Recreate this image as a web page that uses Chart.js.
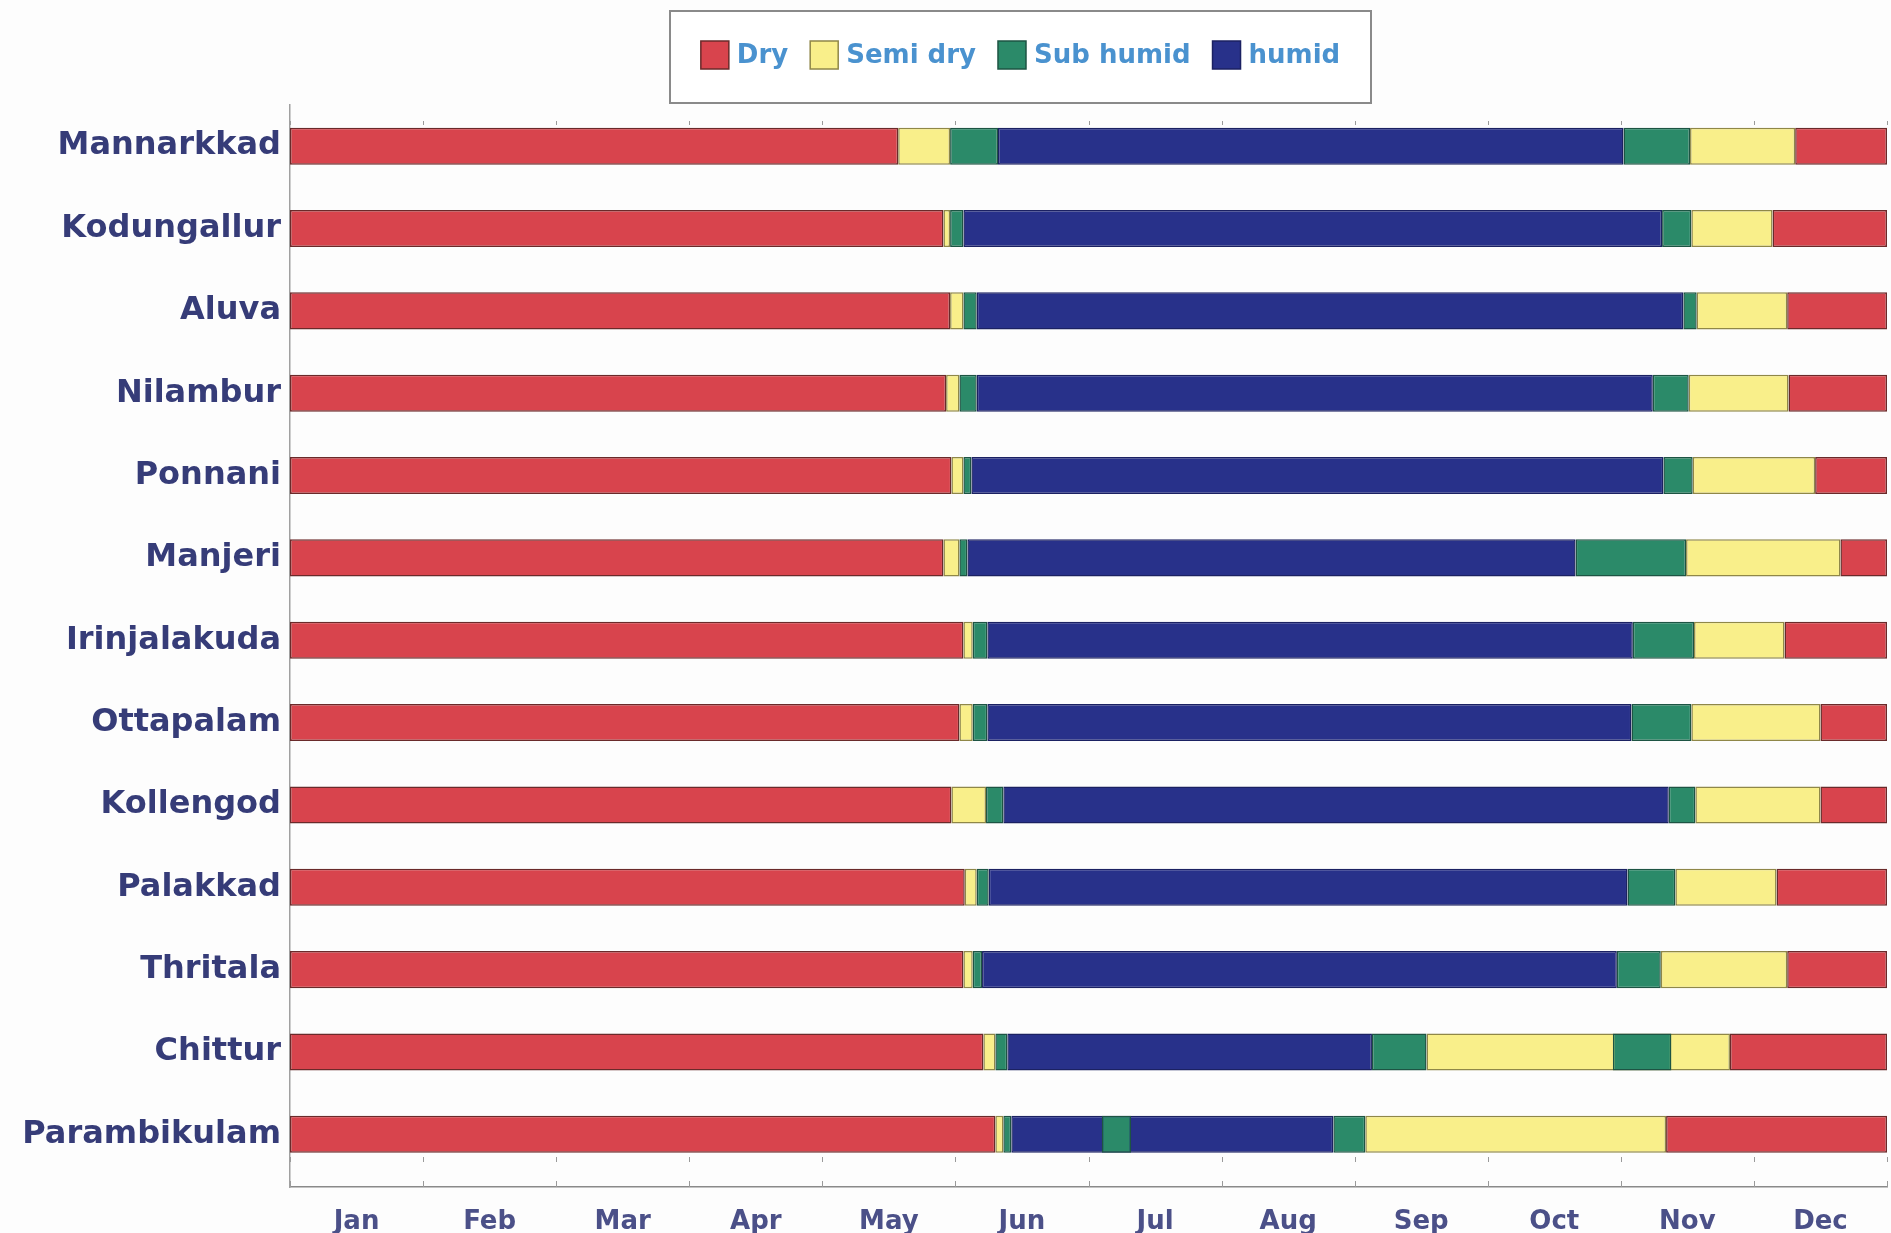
<!DOCTYPE html>
<html>
<head>
<meta charset="utf-8">
<title>Seasons by station</title>
<script src="https://cdn.jsdelivr.net/npm/chart.js@4.4.1/dist/chart.umd.min.js"></script>
<style>
  html, body { margin: 0; padding: 0; background: #fdfdfd; }
  #wrap { width: 1891px; height: 1233px; position: relative; }
</style>
</head>
<body>
<div id="wrap"><canvas id="seasons"></canvas></div>
<script>
const stations = ['Mannarkkad', 'Kodungallur', 'Aluva', 'Nilambur', 'Ponnani', 'Manjeri',
  'Irinjalakuda', 'Ottapalam', 'Kollengod', 'Palakkad', 'Thritala', 'Chittur', 'Parambikulam'];
const months = ['Jan', 'Feb', 'Mar', 'Apr', 'May', 'Jun', 'Jul', 'Aug', 'Sep', 'Oct', 'Nov', 'Dec'];
const classes = ['Dry', 'Semi dry', 'Sub humid', 'humid'];

// month at which each spell ends (0 = start of Jan, 12 = end of Dec)
const dryEnd   = [4.57, 4.91, 4.96, 4.93, 4.97, 4.91, 5.06, 5.03, 4.97, 5.07, 5.06, 5.21, 5.30];
const semiEnd  = [4.96, 4.96, 5.06, 5.03, 5.06, 5.03, 5.13, 5.13, 5.23, 5.16, 5.13, 5.30, 5.36];
const subEnd   = [5.32, 5.06, 5.16, 5.16, 5.12, 5.09, 5.24, 5.24, 5.36, 5.25, 5.20, 5.39, 5.42];
const humidEnd = [10.02, 10.31, 10.47, 10.24, 10.32, 9.66, 10.09, 10.08, 10.36, 10.05, 9.97, 8.13, 7.84];
const sub2End  = [10.52, 10.53, 10.57, 10.51, 10.54, 10.49, 10.55, 10.53, 10.56, 10.41, 10.30, 8.54, 8.08];
const semi2End = [11.31, 11.14, 11.25, 11.26, 11.46, 11.65, 11.23, 11.50, 11.50, 11.17, 11.25, 10.82, 10.34];
// short sub humid break inside the season (Chittur, Parambikulam)
const breakFrom = [null, null, null, null, null, null, null, null, null, null, null, 9.94, 6.10];
const breakTo   = [null, null, null, null, null, null, null, null, null, null, null, 10.38, 6.32];

const fills   = { 'Dry': '#d8444d', 'Semi dry': '#f9ef8a', 'Sub humid': '#2b8a69', 'humid': '#28318a' };
const borders = { 'Dry': '#6a2a2a', 'Semi dry': '#8f8748', 'Sub humid': '#1d5443', 'humid': '#1b2162' };

const at = (v, i) => (Array.isArray(v) ? v[i] : v);
function spell(cls, from, to) {
  const data = [];
  stations.forEach((s, i) => {
    const a = at(from, i), b = at(to, i);
    if (a != null && b != null) data.push({ x: [a, b], y: i });
  });
  return {
    label: cls,
    data: data,
    backgroundColor: fills[cls],
    borderColor: borders[cls],
    borderWidth: 1.5,
    borderSkipped: false,
  };
}

// first dataset is painted last, so the break sits on top
const datasets = [
  spell('Sub humid', breakFrom, breakTo),
  spell('Dry', 0, dryEnd),
  spell('Semi dry', dryEnd, semiEnd),
  spell('Sub humid', semiEnd, subEnd),
  spell('humid', subEnd, humidEnd),
  spell('Sub humid', humidEnd, sub2End),
  spell('Semi dry', sub2End, semi2End),
  spell('Dry', semi2End, 12),
];

const Y_MIN = -0.5, Y_MAX = 12.64;

const boxedLegend = {
  id: 'boxedLegend',
  afterDraw(chart, args, opts) {
    const ctx = chart.ctx;
    ctx.save();
    ctx.fillStyle = '#ffffff';
    ctx.fillRect(opts.left, opts.top, opts.width, opts.height);
    ctx.strokeStyle = '#8a8a8a';
    ctx.lineWidth = 2;
    ctx.strokeRect(opts.left, opts.top, opts.width, opts.height);

    ctx.font = 'bold 26px "DejaVu Sans"';
    const box = 28, gap = 8, space = 22;
    const widths = classes.map(c => ctx.measureText(c).width);
    const total = widths.reduce((a, w) => a + box + gap + w, 0) + space * (classes.length - 1);
    let x = opts.left + (opts.width - total) / 2;
    const cy = opts.top + opts.height / 2 - 2;
    classes.forEach((c, i) => {
      ctx.fillStyle = fills[c];
      ctx.fillRect(x, cy - box / 2, box, box);
      ctx.strokeStyle = borders[c];
      ctx.lineWidth = 1.5;
      ctx.strokeRect(x, cy - box / 2, box, box);
      ctx.fillStyle = '#4a92cf';
      ctx.textBaseline = 'middle';
      ctx.fillText(c, x + box + gap, cy + 1);
      x += box + gap + widths[i] + space;
    });

    // month boundary ticks along the time axis
    const xs = chart.scales.x, area = chart.chartArea;
    ctx.strokeStyle = '#9a9a9a';
    ctx.lineWidth = 1;
    for (let m = 0; m <= 12; m++) {
      const px = Math.round(xs.getPixelForValue(m)) + 0.5;
      ctx.beginPath();
      ctx.moveTo(px, area.bottom - 6);
      ctx.lineTo(px, area.bottom);
      ctx.moveTo(px, area.bottom - 30);
      ctx.lineTo(px, area.bottom - 25);
      ctx.moveTo(px, area.top + 16);
      ctx.lineTo(px, area.top + 20);
      ctx.stroke();
    }
    ctx.restore();
  }
};

new Chart(document.getElementById('seasons'), {
  type: 'bar',
  data: { datasets: datasets },
  plugins: [boxedLegend],
  options: {
    indexAxis: 'y',
    responsive: true,
    maintainAspectRatio: false,
    animation: false,
    grouped: false,
    barPercentage: 0.45,
    categoryPercentage: 1,
    layout: { padding: { top: 105, right: 4, left: 0, bottom: 0 } },
    plugins: {
      legend: { display: false },
      tooltip: { enabled: false },
      boxedLegend: { left: 670, top: 11, width: 701, height: 92 },
    },
    scales: {
      x: {
        type: 'linear',
        bounds: 'data',
        offset: false,
        min: 0,
        max: 12,
        afterBuildTicks: s => {
          s.min = 0;
          s.max = 12;
          s.ticks = months.map((m, i) => ({ value: i + 0.5 }));
        },
        afterFit: s => { s.height = 46; },
        ticks: {
          autoSkip: false,
          maxRotation: 0,
          padding: 20,
          color: '#4b5088',
          font: { family: 'DejaVu Sans', size: 26, weight: 'bold' },
          callback: (v, i) => months[i],
        },
        grid: { display: false, drawTicks: false },
        border: { display: true, color: '#8a8a8a', width: 1.5 },
      },
      y: {
        type: 'linear',
        bounds: 'data',
        offset: false,
        reverse: true,
        min: Y_MIN,
        max: Y_MAX,
        afterBuildTicks: s => {
          s.min = Y_MIN;
          s.max = Y_MAX;
          s.ticks = stations.map((n, i) => ({ value: i }));
        },
        afterFit: s => { s.width = 290; },
        ticks: {
          autoSkip: false,
          padding: 9,
          color: '#363c78',
          font: { family: 'DejaVu Sans', size: 32, weight: 'bold' },
          callback: v => stations[v],
        },
        grid: { display: false, drawTicks: false },
        border: { display: true, color: '#a0a0a0', width: 1.5 },
      },
    },
  },
});
</script>
</body>
</html>
